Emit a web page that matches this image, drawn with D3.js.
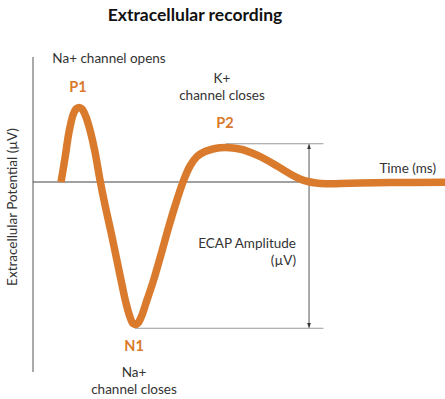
<!DOCTYPE html>
<html>
<head>
<meta charset="utf-8">
<script src="https://cdn.jsdelivr.net/npm/d3@7"></script>
<style>
  body { margin: 0; background: #fff; }
  text { font-family: Lato, "Open Sans", sans-serif; fill: #333; }
</style>
</head>
<body>
<div id="chart"></div>
<script>
// time in ms, extracellular potential in µV
const timeMs = [0.680, 0.777, 0.874, 0.971, 1.044, 1.117, 1.189, 1.286, 1.383, 1.505,
  1.626, 1.748, 1.893, 2.015, 2.136, 2.257, 2.354, 2.427, 2.476, 2.549, 2.646, 2.767,
  2.913, 3.083, 3.252, 3.447, 3.641, 3.811, 3.981, 4.175, 4.369, 4.539, 4.684, 4.854,
  5.073, 5.316, 5.558, 5.801, 6.044, 6.286, 6.481, 6.675, 6.869, 7.112, 7.451, 7.937,
  8.665, 10.0];
const potential = [0, 24, 50, 67, 73, 74.5, 73, 65, 52, 30,
  2, -23, -50, -74, -98, -121, -135, -141.5, -142.5, -141, -133, -118,
  -100, -76, -51, -24, 0, 16, 25.5, 30.5, 33, 34.2, 34.5, 34,
  32.5, 29, 24.5, 19, 13, 7, 3, 0.5, -1, -1.8, -1.6, -1,
  -0.6, -0.3];

const peakLabels = ["P1", "N1", "P2"];
const title = "Extracellular recording";

const width = 445, height = 399;
const margin = {top: 57, right: 0, bottom: 27, left: 33};
const orange = "#d97a2c";
const lineW = 7.5;

const data = timeMs.map((t, i) => ({t: t, v: potential[i]}));

const x = d3.scaleLinear().domain([0, 10]).range([margin.left, width - margin.right]);
const y = d3.scaleLinear().domain([-190, 125]).range([height - margin.bottom, margin.top]);

const svg = d3.select("#chart").append("svg")
    .attr("width", width)
    .attr("height", height);

// axes (plain lines, no ticks)
svg.append("line")
    .attr("x1", x(0)).attr("x2", x(0))
    .attr("y1", y(125)).attr("y2", y(-190))
    .attr("stroke", "#555").attr("stroke-width", 1);
svg.append("line")
    .attr("x1", x(0)).attr("x2", x(10))
    .attr("y1", y(0)).attr("y2", y(0))
    .attr("stroke", "#444").attr("stroke-width", 1.2);

// peaks
const iN1 = d3.minIndex(potential);
const iP1 = d3.maxIndex(potential.slice(0, iN1));
const iP2 = iN1 + d3.maxIndex(potential.slice(iN1));
const n1 = data[iN1], p1 = data[iP1], p2 = data[iP2];

// amplitude guides
const xArrow = x(6.7), xGuideEnd = x(7.05);
const yTop = y(p2.v) - lineW / 2, yBot = y(n1.v) + lineW / 2;
svg.append("line")
    .attr("x1", x(p2.t)).attr("x2", xGuideEnd)
    .attr("y1", yTop).attr("y2", yTop)
    .attr("stroke", "#999").attr("stroke-width", 1);
svg.append("line")
    .attr("x1", x(n1.t)).attr("x2", xGuideEnd)
    .attr("y1", yBot).attr("y2", yBot)
    .attr("stroke", "#999").attr("stroke-width", 1);

svg.append("defs").append("marker")
    .attr("id", "arr")
    .attr("viewBox", "0 0 10 10")
    .attr("refX", 10).attr("refY", 5)
    .attr("markerWidth", 5).attr("markerHeight", 5)
    .attr("orient", "auto-start-reverse")
  .append("path")
    .attr("d", "M0,1L10,5L0,9z")
    .attr("fill", "#333");

svg.append("line")
    .attr("x1", xArrow).attr("x2", xArrow)
    .attr("y1", yTop + 0.5).attr("y2", yBot - 0.5)
    .attr("stroke", "#555").attr("stroke-width", 1)
    .attr("marker-start", "url(#arr)")
    .attr("marker-end", "url(#arr)");

// the trace
const line = d3.line()
    .x(d => x(d.t))
    .y(d => y(d.v))
    .curve(d3.curveCatmullRom.alpha(0.5));

svg.append("path")
    .datum(data)
    .attr("fill", "none")
    .attr("stroke", orange)
    .attr("stroke-width", lineW)
    .attr("stroke-linejoin", "round")
    .attr("stroke-linecap", "butt")
    .attr("d", line);

// title
svg.append("text")
    .attr("x", 195).attr("y", 21)
    .attr("text-anchor", "middle")
    .style("font-size", "17.5px").style("font-weight", "bold")
    .style("fill", "#111")
    .text(title);

// axis labels
svg.append("text")
    .attr("transform", "translate(17,207) rotate(-90)")
    .attr("text-anchor", "middle")
    .style("font-size", "13.5px")
    .text("Extracellular Potential (\u00b5V)");
svg.append("text")
    .attr("x", 436).attr("y", 173)
    .attr("text-anchor", "end")
    .style("font-size", "13.5px")
    .text("Time (ms)");

// peak labels
const peaks = [p1, n1, p2];
const labelDy = [-16, 26, -20];
peaks.forEach((p, i) => {
  svg.append("text")
      .attr("x", x(p.t) - 1)
      .attr("y", y(p.v) + labelDy[i])
      .attr("text-anchor", "middle")
      .style("font-size", "14.5px").style("font-weight", "bold")
      .style("fill", orange)
      .text(peakLabels[i]);
});

// annotations
function note(lines, cx, by, anchor) {
  const t = svg.append("text")
      .attr("text-anchor", anchor || "middle")
      .style("font-size", "13.5px");
  lines.forEach((s, i) => {
    t.append("tspan").attr("x", cx).attr("y", by + i * 17).text(s);
  });
}
note(["Na+ channel opens"], 109, 63);
note(["K+", "channel closes"], 222, 83, "middle");
note(["ECAP Amplitude", "(\u00b5V)"], 296, 248, "end");
note(["Na+", "channel closes"], 134, 377);
</script>
</body>
</html>
